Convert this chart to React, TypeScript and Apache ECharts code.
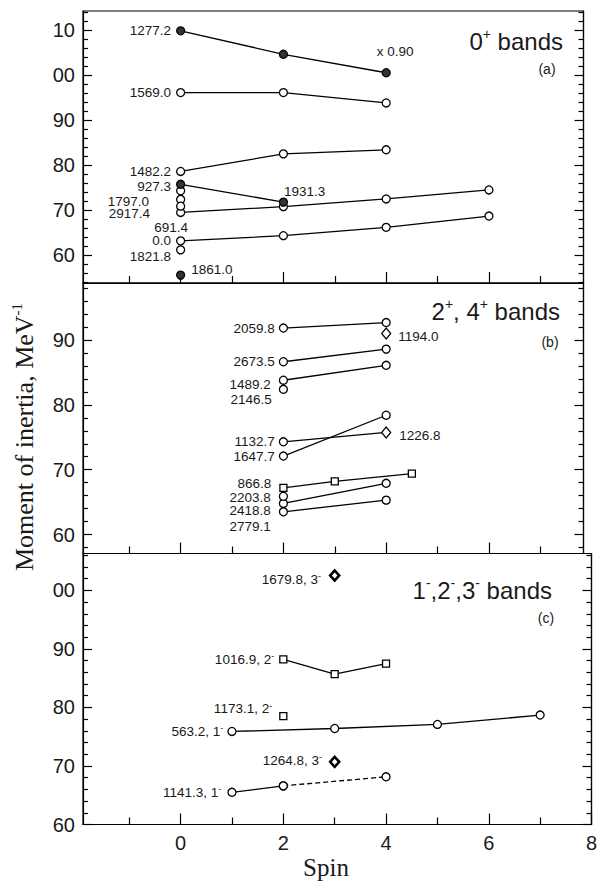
import React, { useEffect, useRef } from 'react';
import * as echarts from 'echarts';

type Pt = [number, number];

// ---------- Panel (a): 0+ bands  (spin, moment of inertia) ----------
const a1277: Pt[] = [[0, 109.8], [2, 104.6], [4, 100.5]];
const a1569: Pt[] = [[0, 96.1], [2, 96.1], [4, 93.8]];
const a1482: Pt[] = [[0, 78.6], [2, 82.5], [4, 83.4]];
const a927: Pt[] = [[0, 75.75], [2, 71.8]];
const a2917: Pt[] = [[0, 69.5], [2, 70.8], [4, 72.5], [6, 74.5]];
const a0: Pt[] = [[0, 63.2], [2, 64.35], [4, 66.2], [6, 68.7]];
const aSingleOpen: Pt[] = [[0, 74.3], [0, 72.4], [0, 70.9], [0, 61.2]];
const aSingleFilled: Pt[] = [[0, 55.6]];

// ---------- Panel (b): 2+, 4+ bands ----------
const b2059: Pt[] = [[2, 91.85], [4, 92.7]];
const b1194: Pt[] = [[4, 91.0]];
const b2673: Pt[] = [[2, 86.65], [4, 88.6]];
const b1489: Pt[] = [[2, 83.8], [4, 86.1]];
const b2146: Pt[] = [[2, 82.4]];
const b1132: Pt[] = [[2, 74.3], [4, 75.75]];
const b1647: Pt[] = [[2, 72.1], [4, 78.4]];
const b866: Pt[] = [[2, 67.2], [3, 68.2], [4.5, 69.4]];
const b2203: Pt[] = [[2, 65.9]];
const b2418: Pt[] = [[2, 64.8], [4, 67.9]];
const b2779: Pt[] = [[2, 63.5], [4, 65.3]];

// ---------- Panel (c): 1-, 2-, 3- bands ----------
const c1679: Pt[] = [[3, 102.55]];
const c1016: Pt[] = [[2, 88.2], [3, 85.7], [4, 87.5]];
const c1173: Pt[] = [[2, 78.5]];
const c563: Pt[] = [[1, 75.9], [3, 76.4], [5, 77.1], [7, 78.7]];
const c1264: Pt[] = [[3, 70.7]];
const c1141Solid: Pt[] = [[1, 65.5], [2, 66.6]];
const c1141Dashed: Pt[] = [[2, 66.6], [4, 68.15]];

// ---------- Axes ----------
const xRanges: Pt[] = [[-1.9, 7.84], [-1.9, 7.84], [-1.9, 8]];
const yRanges: Pt[] = [[53.85, 114.2], [57.07, 98.8], [60, 106.3]];
const xMajorTicks = [0, 2, 4, 6, 8];
const xMinorTicks = [-1, 1, 3, 5, 7];
const yMajorTicks = [[60, 70, 80, 90, 100, 110], [60, 70, 80, 90], [60, 70, 80, 90, 100]];
const yMinorStep = 2;

const SANS = 'Liberation Sans, Arial, Helvetica, sans-serif';
const SERIF = 'Liberation Serif, Times New Roman, serif';
const INK = '#1a1a1a';
const LFS = 13.5;

const grids = [
  { left: 83, top: 11, width: 500.5, height: 272 },
  { left: 83, top: 283, width: 500.5, height: 270.5 },
  { left: 83, top: 553.5, width: 508.5, height: 271 },
];

function minorY(g: number): number[] {
  const [lo, hi] = yRanges[g];
  const out: number[] = [];
  for (let v = Math.ceil(lo / yMinorStep) * yMinorStep; v <= hi; v += yMinorStep) {
    if (v % 10 !== 0) out.push(v);
  }
  return out;
}

const lab = (text: string, extra: any = {}) => ({
  show: true,
  formatter: text,
  position: 'left',
  distance: 5,
  color: INK,
  opacity: 1,
  textBorderWidth: 0,
  fontWeight: 'normal',
  fontFamily: SANS,
  fontSize: LFS,
  lineHeight: 12,
  rich: {
    n: { fontFamily: SANS, fontSize: LFS, color: INK, lineHeight: 15 },
    s: { fontFamily: SANS, fontSize: 9, color: INK, verticalAlign: 'top', lineHeight: 9 },
  },
  ...extra,
});

function item(p: Pt, label?: any, extra: any = {}) {
  const o: any = { value: p, ...extra };
  if (label) o.label = label;
  return o;
}

const OPEN = { color: '#fff', borderColor: '#000', borderWidth: 1.3, opacity: 1 };
const FILLED = { color: '#333', borderColor: '#000', borderWidth: 1.3, opacity: 1 };

function lineS(g: number, data: any[], opts: any = {}) {
  return {
    type: 'line',
    xAxisIndex: 2 * g,
    yAxisIndex: 4 * g,
    data,
    symbol: 'circle',
    symbolSize: 8,
    showSymbol: true,
    showAllSymbol: true,
    itemStyle: OPEN,
    lineStyle: { color: '#000', width: 1.3 },
    label: { show: false },
    emphasis: { disabled: true },
    silent: true,
    clip: false,
    z: 3,
    ...opts,
  };
}

function scatterS(g: number, data: any[], opts: any = {}) {
  return {
    type: 'scatter',
    xAxisIndex: 2 * g,
    yAxisIndex: 4 * g,
    data,
    symbol: 'circle',
    symbolSize: 8,
    itemStyle: OPEN,
    label: { show: false },
    emphasis: { disabled: true },
    silent: true,
    clip: false,
    z: 4,
    ...opts,
  };
}

function buildAxes() {
  const xAxis: any[] = [];
  const yAxis: any[] = [];
  const tickLine = { color: '#000', width: 1.2 };
  for (let g = 0; g < 3; g++) {
    const [xlo, xhi] = xRanges[g];
    const [ylo, yhi] = yRanges[g];
    const xMaj = xMajorTicks.filter((v) => v >= xlo && v <= xhi);
    const xMin = xMinorTicks.filter((v) => v >= xlo && v <= xhi);
    xAxis.push({
      type: 'value', gridIndex: g, min: xlo, max: xhi, position: 'bottom',
      axisLine: { show: true, onZero: false, lineStyle: tickLine },
      axisTick: { show: true, inside: true, length: 11, customValues: xMaj, lineStyle: tickLine },
      axisLabel: {
        show: g === 2, customValues: xMaj, margin: 8, fontSize: 20, color: INK, fontFamily: SANS,
      },
      splitLine: { show: false },
    });
    xAxis.push({
      type: 'value', gridIndex: g, min: xlo, max: xhi, position: 'bottom',
      axisLine: { show: false, onZero: false },
      axisTick: { show: true, inside: true, length: 7, customValues: xMin, lineStyle: tickLine },
      axisLabel: { show: false },
      splitLine: { show: false },
    });
    const yMaj = yMajorTicks[g];
    const yMin = minorY(g);
    for (const pos of ['left', 'right']) {
      yAxis.push({
        type: 'value', gridIndex: g, min: ylo, max: yhi, position: pos,
        axisLine: { show: true, onZero: false, lineStyle: tickLine },
        axisTick: { show: true, inside: true, length: 9, customValues: yMaj, lineStyle: tickLine },
        axisLabel: {
          show: pos === 'left', customValues: yMaj, margin: 8, fontSize: 20, color: INK, fontFamily: SANS,
          formatter: (v: number) => String(Math.round(v) % 100).padStart(2, '0'),
        },
        splitLine: { show: false },
      });
      yAxis.push({
        type: 'value', gridIndex: g, min: ylo, max: yhi, position: pos,
        axisLine: { show: false, onZero: false },
        axisTick: { show: true, inside: true, length: 5, customValues: yMin, lineStyle: tickLine },
        axisLabel: { show: false },
        splitLine: { show: false },
      });
    }
  }
  return { xAxis, yAxis };
}

function buildSeries() {
  const s: any[] = [];
  // ---- (a)
  s.push(lineS(0, [
    item(a1277[0], lab('1277.2')),
    item(a1277[1]),
    item(a1277[2], lab('x 0.90', { position: 'top', offset: [9, -6] })),
  ], { itemStyle: FILLED }));
  s.push(lineS(0, [item(a1569[0], lab('1569.0')), item(a1569[1]), item(a1569[2])]));
  s.push(lineS(0, [item(a1482[0], lab('1482.2')), item(a1482[1]), item(a1482[2])]));
  s.push(lineS(0, [
    item(a927[0], lab('927.3', { offset: [0, 2] })),
    item(a927[1], lab('1931.3', { position: 'right', distance: 0, offset: [-4, -11] })),
  ], { itemStyle: FILLED, z: 5 }));
  s.push(lineS(0, [
    item(a2917[0], lab('2917.4', { offset: [-21, 1.5] })),
    item(a2917[1]), item(a2917[2]), item(a2917[3]),
  ]));
  s.push(lineS(0, [item(a0[0], lab('0.0')), item(a0[1]), item(a0[2]), item(a0[3])]));
  s.push(scatterS(0, [
    item(aSingleOpen[0]),
    item(aSingleOpen[1], lab('1797.0', { offset: [-22, 2] })),
    item(aSingleOpen[2], lab('691.4', { offset: [17, 21.5] })),
    item(aSingleOpen[3], lab('1821.8', { offset: [0, 6.5] })),
  ]));
  s.push(scatterS(0, [
    item(aSingleFilled[0], lab('1861.0', { position: 'right', distance: 6, offset: [0, -6] })),
  ], { itemStyle: FILLED }));

  // ---- (b)
  const DIA = { symbol: 'diamond', symbolSize: [9, 11] };
  s.push(lineS(1, [item(b2059[0], lab('2059.8', { distance: 4 })), item(b2059[1])]));
  s.push(scatterS(1, [item(b1194[0], lab('1194.0', { position: 'right', distance: 7, offset: [0, 2.5] }))], DIA));
  s.push(lineS(1, [item(b2673[0], lab('2673.5', { distance: 4 })), item(b2673[1])]));
  s.push(lineS(1, [item(b1489[0], lab('1489.2', { offset: [-3, 4] })), item(b1489[1])]));
  s.push(scatterS(1, [item(b2146[0], lab('2146.5', { offset: [-2, 10.5] }))]));
  s.push(lineS(1, [
    item(b1132[0], lab('1132.7', { distance: 4 })),
    item(b1132[1], lab('1226.8', { position: 'right', distance: 8, offset: [0, 3.5] }), DIA),
  ]));
  s.push(lineS(1, [item(b1647[0], lab('1647.7', { distance: 4 })), item(b1647[1])]));
  s.push(lineS(1, [
    item(b866[0], lab('866.8', { offset: [-3, -4.5] })), item(b866[1]), item(b866[2]),
  ], { symbol: 'rect', symbolSize: 7 }));
  s.push(scatterS(1, [item(b2203[0], lab('2203.8', { offset: [-3, 1.5] }))]));
  s.push(lineS(1, [item(b2418[0], lab('2418.8', { offset: [-3, 7.5] })), item(b2418[1])]));
  s.push(lineS(1, [item(b2779[0], lab('2779.1', { offset: [-3, 14.5] })), item(b2779[1])]));

  // ---- (c)
  const BOLD_DIA = {
    symbol: 'diamond', symbolSize: [9, 10],
    itemStyle: { color: '#fff', borderColor: '#000', borderWidth: 2.6, opacity: 1 },
  };
  s.push(scatterS(2, [item(c1679[0], lab('{n|1679.8, 3}{s|-}', { distance: 8, offset: [0, 4] }))], BOLD_DIA));
  s.push(lineS(2, [
    item(c1016[0], lab('{n|1016.9, 2}{s|-}', { distance: 5 })), item(c1016[1]), item(c1016[2]),
  ], { symbol: 'rect', symbolSize: 7 }));
  s.push(scatterS(2, [item(c1173[0], lab('{n|1173.1, 2}{s|-}', { offset: [-2, -7.5] }))], { symbol: 'rect', symbolSize: 7 }));
  s.push(lineS(2, [
    item(c563[0], lab('{n|563.2, 1}{s|-}', { distance: 4 })), item(c563[1]), item(c563[2]), item(c563[3]),
  ]));
  s.push(scatterS(2, [item(c1264[0], lab('{n|1264.8, 3}{s|-}', { distance: 7, offset: [0, -1.5] }))], BOLD_DIA));
  s.push(lineS(2, c1141Dashed.map((p) => item(p)), { lineStyle: { color: '#000', width: 1.3, type: [5, 3] } }));
  s.push(lineS(2, [item(c1141Solid[0], lab('{n|1141.3, 1}{s|-}', { distance: 6 })), item(c1141Solid[1])]));
  return s;
}

function buildGraphics() {
  const titleRich = {
    m: { fontFamily: SANS, fontSize: 24, color: INK, lineHeight: 28 },
    s: { fontFamily: SANS, fontSize: 14, color: INK, verticalAlign: 'top', lineHeight: 14 },
  };
  const txt = (x: number, y: number, text: string, extra: any = {}, rot = 0) => ({
    type: 'text', x, y, rotation: rot, silent: true, z: 10,
    style: { text, fill: INK, align: 'center', verticalAlign: 'middle', ...extra },
  });
  return [
    txt(563, 41, '{m|0}{s|+}{m| bands}', { align: 'right', rich: titleRich }),
    txt(547, 69, '(a)', { fontFamily: SANS, fontSize: 14 }),
    txt(560, 311, '{m|2}{s|+}{m|, 4}{s|+}{m| bands}', { align: 'right', rich: titleRich }),
    txt(550, 342, '(b)', { fontFamily: SANS, fontSize: 14 }),
    txt(552, 590, '{m|1}{s|-}{m|,2}{s|-}{m|,3}{s|-}{m| bands}', { align: 'right', rich: titleRich }),
    txt(546, 618, '(c)', { fontFamily: SANS, fontSize: 14 }),
    txt(326, 867, 'Spin', { fontFamily: SERIF, fontSize: 25 }),
    txt(24, 437, '{t|Moment of inertia, MeV}{u|-1}', {
      rich: {
        t: { fontFamily: SERIF, fontSize: 26, color: INK, lineHeight: 30 },
        u: { fontFamily: SERIF, fontSize: 15, color: INK, verticalAlign: 'top', lineHeight: 15 },
      },
    }, Math.PI / 2),
  ];
}

export default function App() {
  const ref = useRef<HTMLDivElement>(null);
  useEffect(() => {
    if (!ref.current) return;
    const chart = echarts.init(ref.current, undefined, { renderer: 'svg' });
    const { xAxis, yAxis } = buildAxes();
    chart.setOption({
      animation: false,
      backgroundColor: '#fff',
      grid: grids.map((g) => ({
        ...g, show: true, borderColor: '#000', borderWidth: 1.2, backgroundColor: 'transparent',
        containLabel: false, outerBoundsMode: 'none',
      })),
      xAxis,
      yAxis,
      series: buildSeries(),
      graphic: buildGraphics(),
    });
    return () => chart.dispose();
  }, []);
  return (
    <div
      ref={ref}
      style={{ position: 'fixed', left: 0, top: 0, width: 598, height: 883, background: '#fff' }}
    />
  );
}
